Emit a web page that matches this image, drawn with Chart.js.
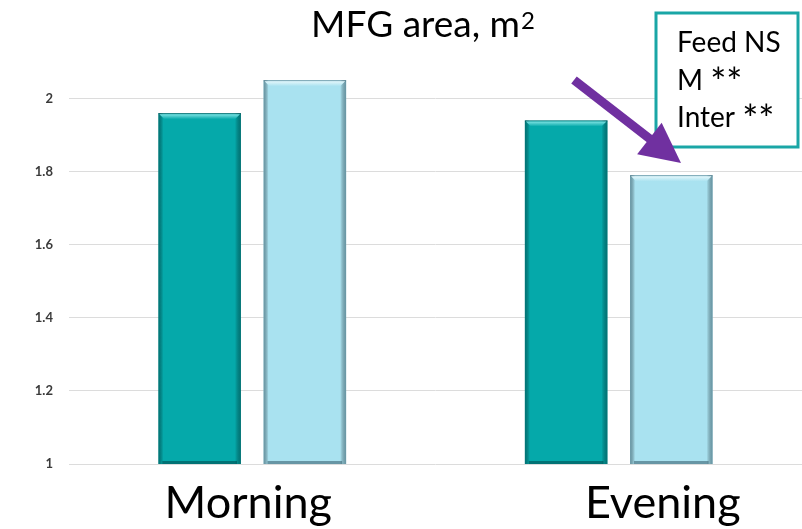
<!DOCTYPE html>
<html>
<head>
<meta charset="utf-8">
<script src="https://cdn.jsdelivr.net/npm/chart.js@4.4.1/dist/chart.umd.min.js"></script>
<style>
  html, body { margin: 0; padding: 0; background: #fff; }
  #wrap { width: 802px; height: 529px; position: relative; }
</style>
</head>
<body>
<div id="wrap"><canvas id="c"></canvas></div>
<script>
// Mean MFG area by time of day, two feed groups
const categories = ['Morning', 'Evening'];
const darkSeries = [1.96, 1.94];
const lightSeries = [2.05, 1.79];
const yTicks = [1, 1.2, 1.4, 1.6, 1.8, 2];
const noteLines = [['Feed NS', ''], ['M ', '**'], ['Inter ', '**']];
const titleText = 'MFG area, m';
const titleSup = '2';

const FONT = 'Lato, "Open Sans", sans-serif';
const DARK = '#05a9aa';
const LIGHT = '#a9e2f0';

// bevelled look for each bar: dark side edges and a bright top rim
const bevel = {
  id: 'bevel',
  afterDatasetsDraw(chart) {
    const ctx = chart.ctx;
    const floor = chart.chartArea.bottom;
    chart.data.datasets.forEach((ds, di) => {
      const meta = chart.getDatasetMeta(di);
      const edge = di === 0 ? 'rgba(0,70,72,0.55)' : 'rgba(60,100,115,0.6)';
      const rim = di === 0 ? '#7fe3e3' : '#e4f7fb';
      meta.data.forEach(bar => {
        const l = bar.x - bar.width / 2, r = bar.x + bar.width / 2;
        const t = bar.y, b = Math.min(bar.base, floor);
        ctx.save();
        let g = ctx.createLinearGradient(l, 0, l + 5, 0);
        g.addColorStop(0, edge); g.addColorStop(1, 'rgba(0,0,0,0)');
        ctx.fillStyle = g; ctx.fillRect(l, t, 5, b - t);
        g = ctx.createLinearGradient(r - 6, 0, r, 0);
        g.addColorStop(0, 'rgba(0,0,0,0)'); g.addColorStop(1, edge);
        ctx.fillStyle = g; ctx.fillRect(r - 6, t, 6, b - t);
        ctx.fillStyle = edge; ctx.fillRect(l, t, r - l, 1);
        ctx.beginPath();
        ctx.moveTo(l + 1, t + 1); ctx.lineTo(r - 1, t + 1);
        ctx.lineTo(r - 6, t + 6); ctx.lineTo(l + 6, t + 6); ctx.closePath();
        g = ctx.createLinearGradient(0, t + 1, 0, t + 6);
        g.addColorStop(0, rim); g.addColorStop(1, di === 0 ? DARK : LIGHT);
        ctx.fillStyle = g; ctx.fill();
        ctx.fillStyle = edge; ctx.fillRect(l + 4, b - 3, r - l - 8, 3);
        ctx.restore();
      });
    });
  }
};

// title, category names, note box and arrow
const decor = {
  id: 'decor',
  afterDraw(chart) {
    const ctx = chart.ctx;
    const x = chart.scales.x;
    ctx.save();
    ctx.fillStyle = '#000';
    ctx.textBaseline = 'alphabetic';

    // title with superscript
    ctx.font = '37px ' + FONT;
    const tw = ctx.measureText(titleText).width;
    ctx.font = '24px ' + FONT;
    const sw = ctx.measureText(titleSup).width;
    const tx = 423 - (tw + sw + 1) / 2;
    ctx.font = '37px ' + FONT;
    ctx.textAlign = 'left';
    ctx.fillText(titleText, tx, 37);
    ctx.font = '24px ' + FONT;
    ctx.fillText(titleSup, tx + tw + 1, 29);

    // category names under the axis
    const shift = [-4, 44];
    ctx.font = '45px ' + FONT;
    ctx.textAlign = 'center';
    categories.forEach((c, i) => {
      ctx.fillText(c, x.getPixelForValue(i) + shift[i], 518);
    });

    // note box
    ctx.fillStyle = '#fff';
    ctx.fillRect(656, 13, 142, 134);
    ctx.strokeStyle = '#1aa6a6';
    ctx.lineWidth = 3;
    ctx.strokeRect(656, 13, 142, 134);
    ctx.fillStyle = '#000';
    ctx.textAlign = 'left';
    noteLines.forEach(([txt, stars], i) => {
      const by = 52 + i * 37.5;
      ctx.font = '28px ' + FONT;
      ctx.fillText(txt, 677, by);
      const w = ctx.measureText(txt).width;
      if (stars) {
        ctx.font = '38px ' + FONT;
        ctx.fillText(stars, 677 + w, by + 6);
      }
    });

    // arrow pointing at the evening light bar
    const x0 = 574, y0 = 80, x1 = 681, y1 = 163;
    const ang = Math.atan2(y1 - y0, x1 - x0);
    const head = 40, half = 20;
    const bx = x1 - head * Math.cos(ang), by = y1 - head * Math.sin(ang);
    ctx.strokeStyle = '#7030a0';
    ctx.fillStyle = '#7030a0';
    ctx.lineWidth = 9;
    ctx.beginPath(); ctx.moveTo(x0, y0); ctx.lineTo(bx + 2 * Math.cos(ang), by + 2 * Math.sin(ang)); ctx.stroke();
    ctx.beginPath();
    ctx.moveTo(x1, y1);
    ctx.lineTo(bx + half * Math.sin(ang), by - half * Math.cos(ang));
    ctx.lineTo(bx - half * Math.sin(ang), by + half * Math.cos(ang));
    ctx.closePath(); ctx.fill();
    ctx.restore();
  }
};

new Chart(document.getElementById('c'), {
  type: 'bar',
  data: {
    labels: categories,
    datasets: [
      { label: 'Series 1', data: darkSeries, backgroundColor: DARK },
      { label: 'Series 2', data: lightSeries, backgroundColor: LIGHT }
    ]
  },
  options: {
    responsive: true,
    maintainAspectRatio: false,
    animation: false,
    devicePixelRatio: 1,
    layout: { padding: { top: 62, bottom: 65, left: 0, right: 0 } },
    datasets: { bar: { barPercentage: 0.785, categoryPercentage: 0.574 } },
    plugins: { legend: { display: false }, title: { display: false }, tooltip: { enabled: false } },
    scales: {
      x: { display: false },
      y: {
        min: 1,
        max: 2.1,
        afterBuildTicks: s => { s.ticks = yTicks.map(v => ({ value: v })); },
        afterFit: s => { s.width = 69; },
        ticks: {
          font: { family: FONT, size: 13, weight: 'bold' },
          color: '#3a3a3a',
          padding: 16,
          callback: v => String(v)
        },
        grid: { color: '#dcdcdc', drawTicks: false },
        border: { display: false }
      }
    }
  },
  plugins: [bevel, decor]
});
</script>
</body>
</html>
